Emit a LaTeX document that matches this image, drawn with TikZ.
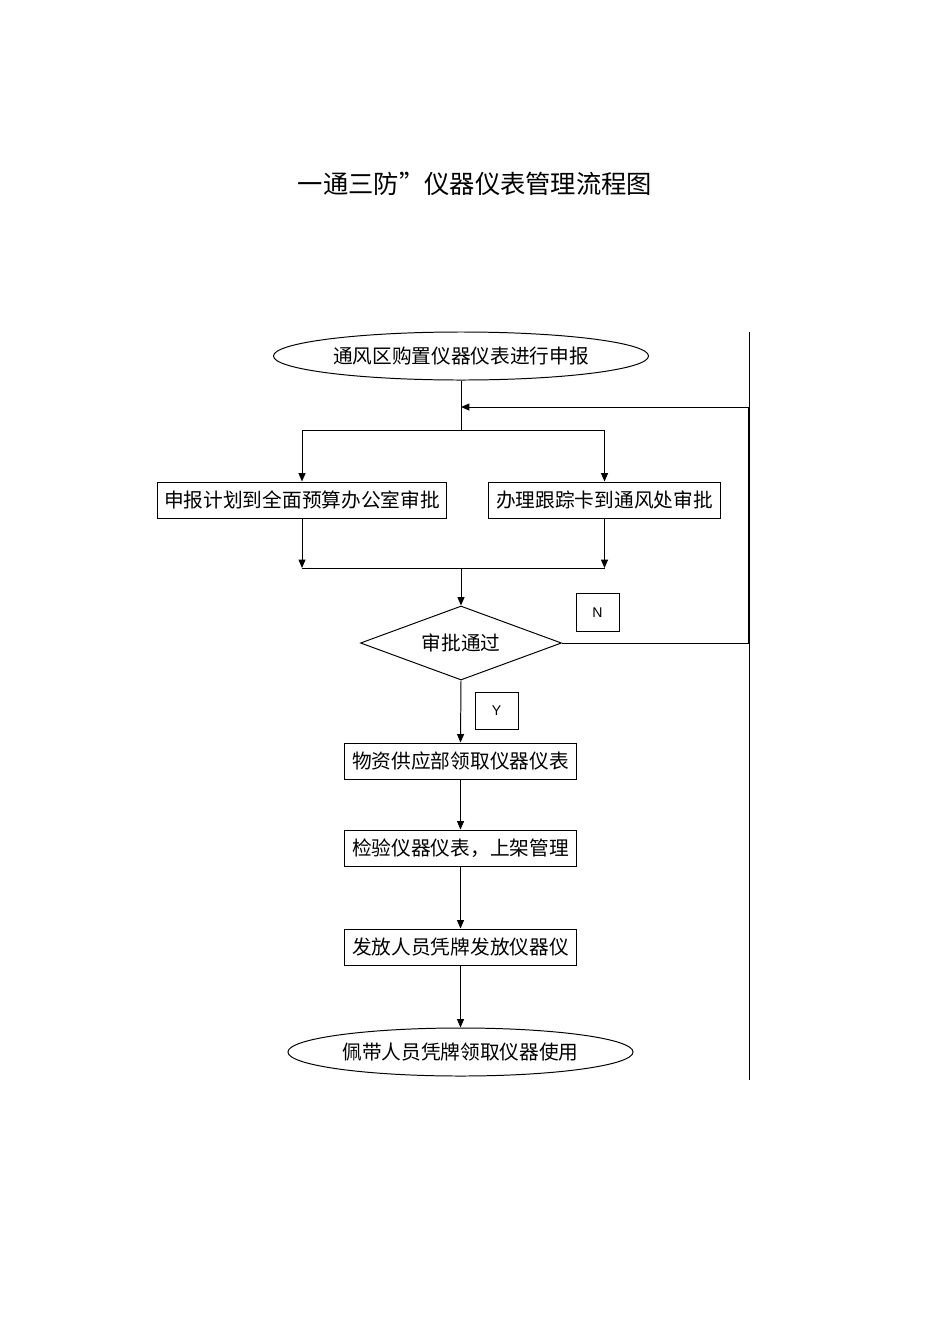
\documentclass[tikz,border=0pt]{standalone}
\usepackage{fontspec}
\setmainfont{Noto Sans CJK SC}
\setsansfont{Liberation Sans}
\usetikzlibrary{positioning, arrows.meta, shapes.geometric}

\begin{document}
\begin{tikzpicture}[
    x=0.025cm, y=-0.025cm,
    txt/.style={font=\fontsize{14}{16}\selectfont},
    proc/.style={rectangle, draw, line width=0.7pt, minimum width=#1, minimum height=0.9cm, inner sep=0pt, txt},
    term/.style={ellipse, draw, line width=0.7pt, minimum width=#1, minimum height=1.2cm, inner sep=0pt, txt},
    decide/.style={diamond, draw, aspect=2.7, line width=0.7pt, minimum width=5.025cm, minimum height=1.85cm, inner sep=0pt, txt},
    flag/.style={rectangle, draw, line width=0.7pt, minimum width=1.075cm, minimum height=0.93cm, inner sep=0pt, font=\sffamily\fontsize{10}{12}\selectfont},
    link/.style={line width=0.7pt},
    arr/.style={-{Triangle[length=6pt, width=5pt]}, line width=0.7pt},
]
\useasboundingbox (0,0) rectangle (950,1344);
\node[font=\fontsize{18}{20}\selectfont] (title) at (475,184) {一通三防”仪器仪表管理流程图};

% flow nodes
\node[term=9.375cm] (start) at (461,356) {通风区购置仪器仪表进行申报};
\node[proc=7.2cm] (plan) at (302,500) {申报计划到全面预算办公室审批};
\node[proc=5.775cm] (track) at (604.5,500) {办理跟踪卡到通风处审批};
\node[decide] (check) at (461,643) {审批通过};
\node[proc=5.775cm] (fetch) at (460.5,761) {物资供应部领取仪器仪表};
\node[proc=5.775cm] (shelf) at (460.5,848) {检验仪器仪表，上架管理};
\node[proc=5.775cm] (issue) at (460.5,947) {发放人员凭牌发放仪器仪};
\node[term=8.625cm] (use) at (460.5,1052) {佩带人员凭牌领取仪器使用};
\node[flag] (no) at (597.5,612.5) {N};
\node[flag] (yes) at (496.5,711) {Y};

% helper points
\coordinate (back) at (461,407);
\coordinate (split) at (461,430);
\coordinate (merge) at (461,568);
\coordinate (rb) at (749,643);
\coordinate (rt) at (749,407);
\coordinate (edgeT) at (749,332);
\coordinate (edgeB) at (749,1080);

% connectors
\draw[link] (start.south) -- (split);
\draw[link] (plan.north |- split) -- (track.north |- split);
\draw[arr] (plan.north |- split) -- (plan.north);
\draw[arr] (track.north |- split) -- (track.north);
\draw[arr] (plan.south) -- (plan.south |- merge);
\draw[arr] (track.south) -- (track.south |- merge);
\draw[link] (plan.south |- merge) -- (track.south |- merge);
\draw[arr] (merge) -- (check.north);
\draw[arr] (check.south) -- (fetch.north);
\draw[arr] (fetch.south) -- (shelf.north);
\draw[arr] (shelf.south) -- (issue.north);
\draw[arr] (issue.south) -- (use.north);
\draw[link] (edgeT) -- (edgeB);
\draw[link] (check.east) -- (rb);
\draw[line width=1.6pt] (rb) -- (rt);
\draw[arr] (rt) -- (back);
\end{tikzpicture}
\end{document}
